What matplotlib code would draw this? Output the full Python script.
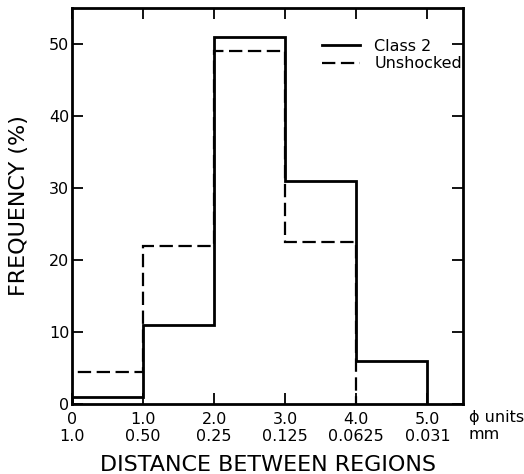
import matplotlib
matplotlib.use("Agg")
import matplotlib.pyplot as plt
import numpy as np

edges = [0, 1, 2, 3, 4, 5]
class2 = [1, 11, 51, 31, 6]
unshocked_edges = [0, 1, 2, 3, 4]
unshocked = [4.5, 22, 49, 22.5]
phi_labels = ["0", "1.0", "2.0", "3.0", "4.0", "5.0"]
mm_labels = ["1.0", "0.50", "0.25", "0.125", "0.0625", "0.031"]
y_ticks = [0, 10, 20, 30, 40, 50]

plt.rcParams['font.family'] = ['DejaVu Sans']
fig = plt.figure(figsize=(5.24, 4.74), dpi=100)
ax = fig.add_axes([72/524, 1-404/474, 391/524, 396/474])

ax.stairs(class2, edges, color='black', lw=2.0, label='Class 2')
ax.stairs(unshocked, unshocked_edges, color='black', lw=1.6, linestyle=(0, (6, 2.5)), label='Unshocked')

ax.set_xlim(0, 5.5)
ax.set_ylim(0, 55)
ax.set_xticks(edges)
ax.set_xticklabels([f"{p}\n{m}" for p, m in zip(phi_labels, mm_labels)], fontsize=11.5, linespacing=1.1)
ax.set_yticks(y_ticks)
ax.set_yticklabels([str(v) for v in y_ticks], fontsize=11.5)
ax.tick_params(axis='both', direction='in', length=8, width=1.3)
ax.tick_params(axis='x', pad=6, top=True)
ax.tick_params(axis='y', pad=2, right=True, labelright=False)
for s in ax.spines.values():
    s.set_linewidth(2.0)

ax.text(1.015, -0.035, "\u03d5 units", transform=ax.transAxes, fontsize=11.5, va='center', ha='left')
ax.text(1.015, -0.078, "mm", transform=ax.transAxes, fontsize=11.5, va='center', ha='left')

ax.set_xlabel("DISTANCE BETWEEN REGIONS", fontsize=16, labelpad=8)
ax.set_ylabel("FREQUENCY (%)", fontsize=16, labelpad=14)

ax.legend(loc='upper left', bbox_to_anchor=(0.61, 0.95), frameon=False, fontsize=11.5,
          handlelength=2.4, handletextpad=0.9, labelspacing=0.15, borderpad=0.2)

fig.savefig("out.png", dpi=100)
